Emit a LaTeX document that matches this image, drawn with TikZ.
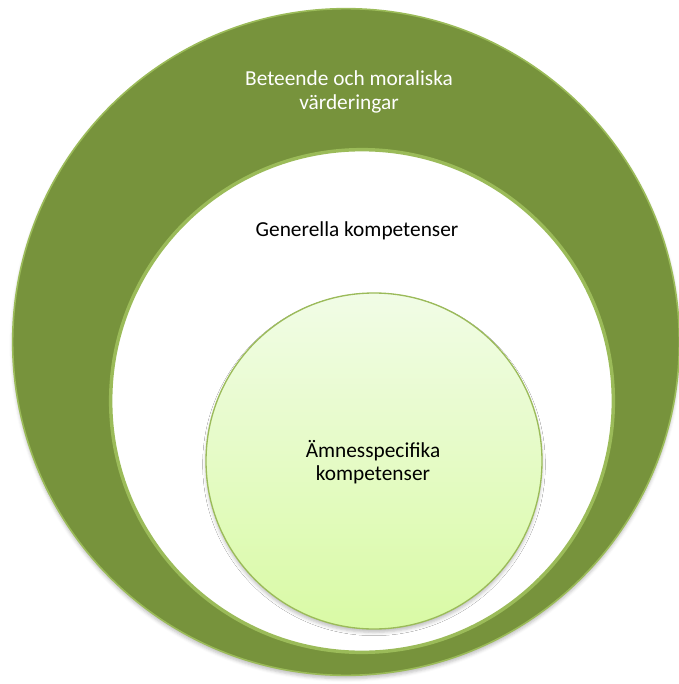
\documentclass[tikz,border=0pt]{standalone}
\usepackage{fontspec}
\setmainfont{Carlito}
\usetikzlibrary{positioning, shadows.blur}
\definecolor{olivedark}{HTML}{77933C}
\definecolor{oliverim}{HTML}{9BBB59}
\definecolor{limetop}{HTML}{F1FCE6}
\definecolor{limebottom}{HTML}{D9FAA5}
\tikzset{
    ring/.style={circle, inner sep=0pt, outer sep=0pt, draw=oliverim},
    softshadow/.style={blur shadow={shadow xshift=0pt, shadow yshift=-2.5pt, shadow blur radius=2.5pt, shadow opacity=25}},
    caption/.style={align=center, font=\fontsize{16}{17.5}\selectfont, inner sep=0pt}
}

\begin{document}
\begin{tikzpicture}[x=0.75pt, y=-0.75pt]
    \useasboundingbox (0,0) rectangle (678,684);

    %Circles
    \node[ring, softshadow, fill=olivedark, line width=1.2pt, minimum size=500pt] (outer) at (346, 342) {};
    \node[ring, fill=white, line width=2.6pt, minimum size=377pt] (middle) at (362, 401) {};
    \node[ring, softshadow, top color=limetop, bottom color=limebottom, line width=1pt, minimum size=252pt] (inner) at (374, 461) {};

    %Texts
    \node[caption, text=white] (values) at (349, 92) {Beteende och moraliska\\värderingar};
    \node[caption] (general) at (357, 231) {Generella kompetenser};
    \node[caption] (subject) at (373, 462) {Ämnesspecifika\\kompetenser};
\end{tikzpicture}
\end{document}
